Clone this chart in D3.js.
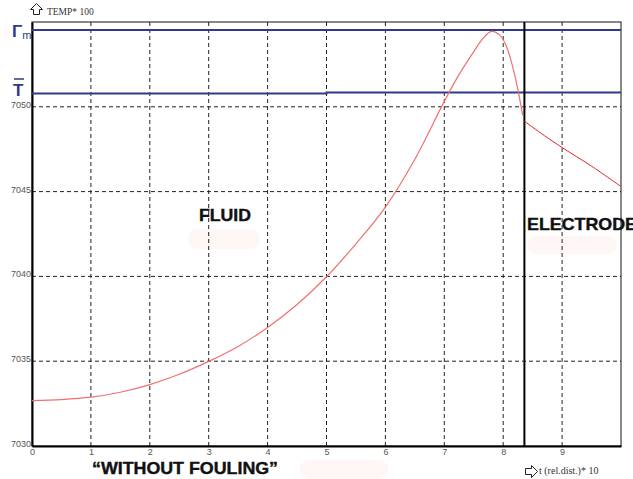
<!DOCTYPE html>
<html>
<head>
<meta charset="utf-8">
<style>
  body { margin: 0; background: #fff; }
  svg { display: block; }
</style>
<script src="https://d3js.org/d3.v7.min.js"></script>
</head>
<body>
<script>
// data
var xTicks = [0, 1, 2, 3, 4, 5, 6, 7, 8, 9];
var yTicks = [7030, 7035, 7040, 7045, 7050];

// temperature in the fluid (x = rel. distance, y = temp)
var fluidX = [0, 0.5, 1, 1.5, 2, 2.5, 3, 3.5, 4, 4.5, 5, 5.5, 6, 6.5, 7, 7.25, 7.5, 7.65, 7.8, 7.95, 8.05, 8.15, 8.25, 8.33];
var fluidY = [7032.68, 7032.74, 7032.88, 7033.17, 7033.62, 7034.23, 7034.99, 7035.87, 7036.99, 7038.34, 7039.98, 7041.92, 7044.09, 7046.91, 7050.32, 7051.9, 7053.25, 7054.0, 7054.45, 7054.2, 7053.6, 7052.5, 7051.0, 7049.5];

// temperature in the electrode
var electX = [8.36, 8.7, 9, 9.5, 10];
var electY = [7049.15, 7048.3, 7047.6, 7046.5, 7045.3];

// reference levels: T_m and mean T
var tmLevel = 7054.53;
var tbarX = [0, 5, 5, 10];
var tbarY = [7050.78, 7050.78, 7050.85, 7050.85];
var electrodeAt = 8.36;

var W = 633, H = 479;
var m = {left: 32, top: 22, right: 12, bottom: 33};

var svg = d3.select("body").append("svg")
    .attr("width", W)
    .attr("height", H);

var x = d3.scaleLinear().domain([0, 10]).range([m.left, W - m.right]);
var y = d3.scaleLinear().domain([7030, 7055]).range([H - m.bottom, m.top]);

// faint smudges left over under the labels
var smudges = [[188, 229, 72, 20], [527, 236, 90, 18], [300, 460, 88, 19]];
svg.selectAll("rect.smudge").data(smudges).enter().append("rect")
    .attr("class", "smudge")
    .attr("x", function(d) { return d[0]; })
    .attr("y", function(d) { return d[1]; })
    .attr("width", function(d) { return d[2]; })
    .attr("height", function(d) { return d[3]; })
    .attr("rx", 9)
    .attr("fill", "#fff6f6");

// dashed grid
svg.selectAll("line.vgrid").data(xTicks.slice(1)).enter().append("line")
    .attr("x1", function(d) { return x(d); })
    .attr("x2", function(d) { return x(d); })
    .attr("y1", y(7055))
    .attr("y2", y(7030))
    .attr("stroke", "#222")
    .attr("stroke-dasharray", "4,3");

svg.selectAll("line.hgrid").data(yTicks.slice(1)).enter().append("line")
    .attr("x1", x(0))
    .attr("x2", x(10))
    .attr("y1", function(d) { return y(d); })
    .attr("y2", function(d) { return y(d); })
    .attr("stroke", "#222")
    .attr("stroke-dasharray", "4,3");

// frame
svg.append("rect")
    .attr("x", x(0))
    .attr("y", y(7055))
    .attr("width", x(10) - x(0))
    .attr("height", y(7030) - y(7055))
    .attr("fill", "none")
    .attr("stroke", "#111")
    .attr("stroke-width", 1);

// axes (labels only)
var yAxis = svg.append("g")
    .attr("transform", "translate(" + x(0) + ",0)")
    .call(d3.axisLeft(y).tickValues(yTicks).tickFormat(d3.format("d")).tickSize(0).tickPadding(1));
var xAxis = svg.append("g")
    .attr("transform", "translate(0," + y(7030) + ")")
    .call(d3.axisBottom(x).tickValues(xTicks).tickFormat(d3.format("d")).tickSize(0).tickPadding(3));

[xAxis, yAxis].forEach(function(g) {
    g.select(".domain").attr("stroke", "#000").attr("stroke-width", 2);
    g.selectAll("text")
        .attr("fill", "#555")
        .style("font-family", "'Liberation Sans Narrow', 'Liberation Sans', sans-serif")
        .style("font-size", "9px");
});
yAxis.selectAll("text").attr("dy", "0.05em");

// T_m and T-bar lines
svg.append("line")
    .attr("x1", x(0)).attr("x2", x(10))
    .attr("y1", y(tmLevel)).attr("y2", y(tmLevel))
    .attr("stroke", "#2e3a86").attr("stroke-width", 2);

var line = d3.line()
    .x(function(d) { return x(d[0]); })
    .y(function(d) { return y(d[1]); });

svg.append("path")
    .attr("d", line(d3.zip(tbarX, tbarY)))
    .attr("fill", "none")
    .attr("stroke", "#2e3a86").attr("stroke-width", 2);

// electrode boundary
svg.append("line")
    .attr("x1", x(electrodeAt)).attr("x2", x(electrodeAt))
    .attr("y1", y(7055)).attr("y2", y(7030))
    .attr("stroke", "#000").attr("stroke-width", 2);

// temperature curves
var curve = d3.line()
    .x(function(d) { return x(d[0]); })
    .y(function(d) { return y(d[1]); })
    .curve(d3.curveCatmullRom.alpha(0.5));

svg.append("path")
    .attr("d", curve(d3.zip(fluidX, fluidY)))
    .attr("fill", "none")
    .attr("stroke", "#f07070").attr("stroke-width", 1.2);

svg.append("path")
    .attr("d", curve(d3.zip(electX, electY)))
    .attr("fill", "none")
    .attr("stroke", "#e8202a").attr("stroke-width", 1);

// level labels
svg.append("text")
    .attr("x", 12).attr("y", 37)
    .attr("fill", "#2e3a86")
    .style("font-family", "'Liberation Sans', sans-serif")
    .style("font-size", "17px").style("font-weight", "bold")
    .text("Γ")
  .append("tspan")
    .attr("dy", 2)
    .style("font-size", "11px")
    .style("font-weight", "normal")
    .text("m");

svg.append("text")
    .attr("x", 13).attr("y", 96)
    .attr("fill", "#2e3a86")
    .style("font-family", "'Liberation Sans', sans-serif")
    .style("font-size", "17px").style("font-weight", "bold")
    .text("T");
svg.append("line")
    .attr("x1", 14).attr("x2", 24)
    .attr("y1", 79).attr("y2", 79)
    .attr("stroke", "#2e3a86").attr("stroke-width", 1.5);

// outline arrows next to the axis captions
svg.append("path")
    .attr("d", "M30.5,9.5 L36.5,3.5 L42.5,9.5 L39.5,9.5 L39.5,14.5 L33.5,14.5 L33.5,9.5 Z")
    .attr("fill", "none").attr("stroke", "#222").attr("stroke-width", 1);
svg.append("text")
    .attr("x", 47).attr("y", 15)
    .attr("fill", "#333")
    .style("font-family", "'Liberation Serif', serif")
    .style("font-size", "9.5px")
    .text("TEMP* 100");

svg.append("path")
    .attr("d", "M525.5,468.5 L531.5,468.5 L531.5,465.5 L537.5,471.5 L531.5,477.5 L531.5,474.5 L525.5,474.5 Z")
    .attr("fill", "none").attr("stroke", "#222").attr("stroke-width", 1);
svg.append("text")
    .attr("x", 539).attr("y", 474)
    .attr("fill", "#333")
    .style("font-family", "'Liberation Serif', serif")
    .style("font-size", "10px")
    .text("t (rel.dist.)* 10");

// region labels
var bold = function(sel) {
    return sel.attr("fill", "#111")
        .style("font-family", "'Liberation Sans', Arial, sans-serif")
        .style("font-size", "17px")
        .style("font-weight", "bold")
        .attr("stroke", "#111").attr("stroke-width", 0.4);
};
bold(svg.append("text").attr("x", 199).attr("y", 221)
    .attr("textLength", 52).attr("lengthAdjust", "spacingAndGlyphs")
    .text("FLUID"));
bold(svg.append("text").attr("x", 527).attr("y", 230)
    .attr("textLength", 110).attr("lengthAdjust", "spacingAndGlyphs")
    .text("ELECTRODE"));
bold(svg.append("text").attr("x", 92).attr("y", 474)
    .attr("textLength", 186).attr("lengthAdjust", "spacingAndGlyphs")
    .text("“WITHOUT FOULING”"));
</script>
</body>
</html>
